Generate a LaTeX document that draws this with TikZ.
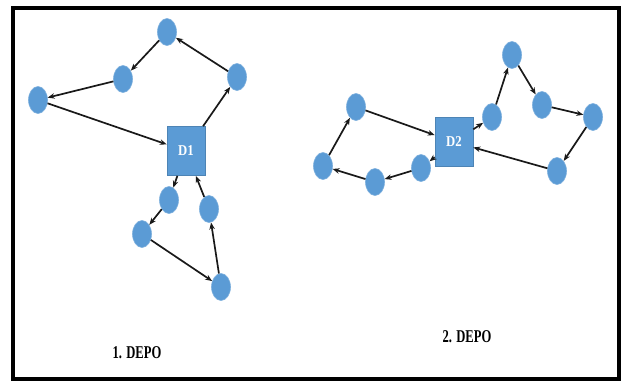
\documentclass[tikz,border=0pt]{standalone}
\usepackage{fontspec}
\setmainfont{Liberation Serif}
\usetikzlibrary{arrows.meta,shapes.geometric}
\definecolor{nodeblue}{RGB}{91,155,213}
\begin{document}
\begin{tikzpicture}[x=1pt,y=-1pt,
  stop/.style={ellipse,fill=nodeblue,draw=nodeblue!80!white,line width=0.6pt,
    minimum width=19pt,minimum height=27pt,inner sep=0pt},
  depot/.style={rectangle,fill=nodeblue,draw=nodeblue!85!black,line width=0.6pt,
    minimum width=38pt,minimum height=49pt,inner sep=0pt,
    text=white,font=\fontsize{15}{15}\selectfont\bfseries},
  route/.style={-{Stealth[length=7pt,width=5.5pt]},line width=1.7pt,black!90},
  caption/.style={font=\fontsize{18}{18}\selectfont\bfseries,xscale=0.7,transform shape}]
\useasboundingbox (0,0) rectangle (621,381);
% outer frame
\draw[line width=4pt] (13,8) rectangle (619,379);

% first depot and its two tours
\node[depot] (d1) at (186,151) {\scalebox{0.85}[1]{D1}};
\node[stop] (a1) at (237,77) {};
\node[stop] (a2) at (167,32) {};
\node[stop] (a3) at (123,79) {};
\node[stop] (a4) at (38,100) {};
\node[stop] (b1) at (169,200) {};
\node[stop] (b2) at (142,234) {};
\node[stop] (b3) at (221,287) {};
\node[stop] (b4) at (209,209) {};

\draw[route] (d1) -- (a1);
\draw[route] (a1) -- (a2);
\draw[route] (a2) -- (a3);
\draw[route] (a3) -- (a4);
\draw[route] (a4) -- (d1);
\draw[route] (d1) -- (b1);
\draw[route] (b1) -- (b2);
\draw[route] (b2) -- (b3);
\draw[route] (b3) -- (b4);
\draw[route] (b4) -- (d1);

% second depot and its two tours
\node[depot] (d2) at (454,142) {\scalebox{0.85}[1]{D2}};
\node[stop] (c1) at (492,117) {};
\node[stop] (c2) at (512,55) {};
\node[stop] (c3) at (542,105) {};
\node[stop] (c4) at (593,117) {};
\node[stop] (c5) at (557,171) {};
\node[stop] (e1) at (421,168) {};
\node[stop] (e2) at (375,182) {};
\node[stop] (e3) at (323,166) {};
\node[stop] (e4) at (356,107) {};

\draw[route] (d2) -- (c1);
\draw[route] (c1) -- (c2);
\draw[route] (c2) -- (c3);
\draw[route] (c3) -- (c4);
\draw[route] (c4) -- (c5);
\draw[route] (c5) -- (d2);
\draw[route] (d2) -- (e1);
\draw[route] (e1) -- (e2);
\draw[route] (e2) -- (e3);
\draw[route] (e3) -- (e4);
\draw[route] (e4) -- (d2);

% captions
\node[caption] (t1) at (137,353) {1. DEPO};
\node[caption] (t2) at (467,337) {2. DEPO};
\end{tikzpicture}
\end{document}
